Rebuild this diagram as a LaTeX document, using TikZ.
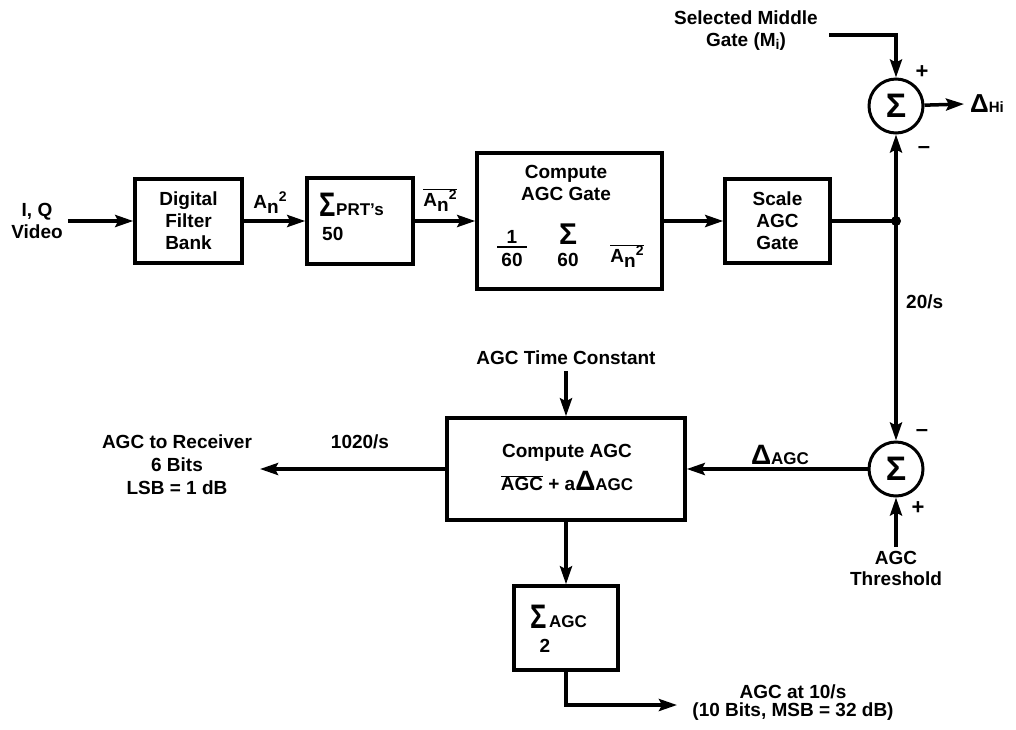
\documentclass[tikz,border=0pt]{standalone}
\usepackage{fontspec}
\setmainfont{Liberation Sans}
\usetikzlibrary{arrows.meta}
\newcommand\fsz[1]{\fontsize{#1}{#1}\selectfont}
\newcommand\ovl[1]{$\overline{\hbox{#1}}$}
\newcommand\Ansq{A\raisebox{-5pt}{n}\raisebox{7pt}{\fsz{14}2}}
\begin{document}
\begin{tikzpicture}[x=1pt,y=-1pt,
  base/.style={font=\fontsize{19}{22}\selectfont\bfseries, inner sep=0pt, align=center},
  blk/.style={base, draw, line width=3.5pt},
  sumc/.style={draw, circle, line width=3pt, minimum size=54pt, inner sep=0pt, font=\fsz{34}\bfseries},
  conn/.style={line width=3.5pt},
  arr/.style={conn, -{Stealth[length=18pt,width=12pt,inset=3pt]}},
]
\useasboundingbox (0,0) rectangle (1016,729);

% top row
\node[base] (iq) at (37,221) {I, Q\\Video};
\node[blk, minimum width=107pt, minimum height=84pt] (dfb) at (188.5,221) {Digital\\Filter\\Bank};
\node[blk, minimum width=106pt, minimum height=86pt] (prt) at (360,221) {};
\node[base, anchor=base west, font=\fsz{34}\bfseries, xscale=0.8] (prtS) at (319,216) {Σ};
\node[base, anchor=base west, font=\fsz{17}\bfseries] (prtT) at (336,215) {PRT's};
\node[base, anchor=base west] (prtN) at (322,240) {50};
\node[blk, minimum width=185pt, minimum height=136pt] (cag) at (569.5,221) {};
\node[base] (cagT) at (566,183) {Compute\\AGC Gate};
\node[base] (one) at (512,237) {1};
\node[base] (six1) at (512,260) {60};
\draw[line width=2pt] (497,247) -- (527,247);
\node[base, font=\fsz{30}\bfseries] (cagS) at (568,234) {Σ};
\node[base] (six2) at (568,260) {60};
\node[base] (cagA) at (627,256) {\ovl{\Ansq}};
\node[blk, minimum width=105pt, minimum height=84pt] (sag) at (777.5,221) {Scale\\AGC\\Gate};

\node[base] (lblA) at (270,203) {\Ansq};
\node[base] (lblB) at (440,200) {\ovl{\Ansq}};

\draw[arr] ([xshift=5pt]iq.east) -- (dfb.west);
\draw[arr] (dfb) -- (prt);
\draw[arr] (prt) -- (cag);
\draw[arr] (cag) -- (sag);

\coordinate (jn) at (896,221);
\draw[conn] (sag.east) -- (jn);
\fill (jn) circle (5pt);

\node[sumc] (s1) at (896,106) {Σ};
\node[sumc] (s2) at (896,469) {Σ};
\draw[arr] (jn) -- (s1);
\draw[arr] (jn) -- (s2);

\node[base] (sel) at (746,31) {Selected Middle\\Gate (M\raisebox{-3pt}{\fsz{14}i})};
\coordinate (selc) at (829,35);
\draw[arr] (selc) -| (s1);
\node[base, anchor=west] (dhi) at (970,104) {{\fsz{26}Δ}{\fsz{15}Hi}};
\draw[arr] (s1) -- ([xshift=-6pt]dhi.west);

\node[base, font=\fsz{22}\bfseries] (p1) at (922,72) {+};
\node[base, font=\fsz{22}\bfseries] (m1) at (924,150) {–};
\node[base, font=\fsz{22}\bfseries] (m2) at (922,433) {–};
\node[base, font=\fsz{22}\bfseries] (p2) at (918,508) {+};
\node[base, anchor=west] (rate20) at (906,302) {20/s};

% bottom
\node[base] (tc) at (566,358) {AGC Time Constant};
\node[blk, minimum width=238pt, minimum height=102pt] (cagc) at (566,469) {};
\node[base] (cagc1) at (567,453) {Compute AGC};
\node[base] (cagc2) at (567,481) {\ovl{AGC} + a{\fsz{28}Δ}{\fsz{17}AGC}};
\draw[arr] ([yshift=-6pt]tc.south) -- (cagc);
\draw[arr] (s2) -- (cagc);
\node[base] (dagc) at (780,455) {{\fsz{28}Δ}{\fsz{17}AGC}};

\node[base, font=\fontsize{19}{23}\selectfont\bfseries] (recv) at (177,465) {AGC to Receiver\\6 Bits\\LSB = 1 dB};
\coordinate (recvtip) at (260,469);
\draw[arr] (cagc) -- (recvtip);
\node[base] (r1020) at (360,442) {1020/s};

\node[base, font=\fontsize{19}{21}\selectfont\bfseries] (thr) at (896,568) {AGC\\Threshold};
\draw[arr] ([yshift=4pt]thr.north) -- (s2);

\node[blk, minimum width=104pt, minimum height=84pt] (sagc) at (566,628) {};
\draw[arr] (cagc) -- (sagc);
\node[base, anchor=base west, font=\fsz{34}\bfseries, xscale=0.8] (sagcS) at (530,628) {Σ};
\node[base, anchor=base west, font=\fsz{17}\bfseries] (sagcT) at (549,627) {AGC};
\node[base] (sagcN) at (545,646) {2};
\coordinate (outc) at (677,705);
\draw[arr] (sagc) |- (outc);
\node[base, font=\fontsize{19}{18}\selectfont\bfseries] (out) at (793,703) {AGC at 10/s\\(10 Bits, MSB = 32 dB)};
\end{tikzpicture}
\end{document}
